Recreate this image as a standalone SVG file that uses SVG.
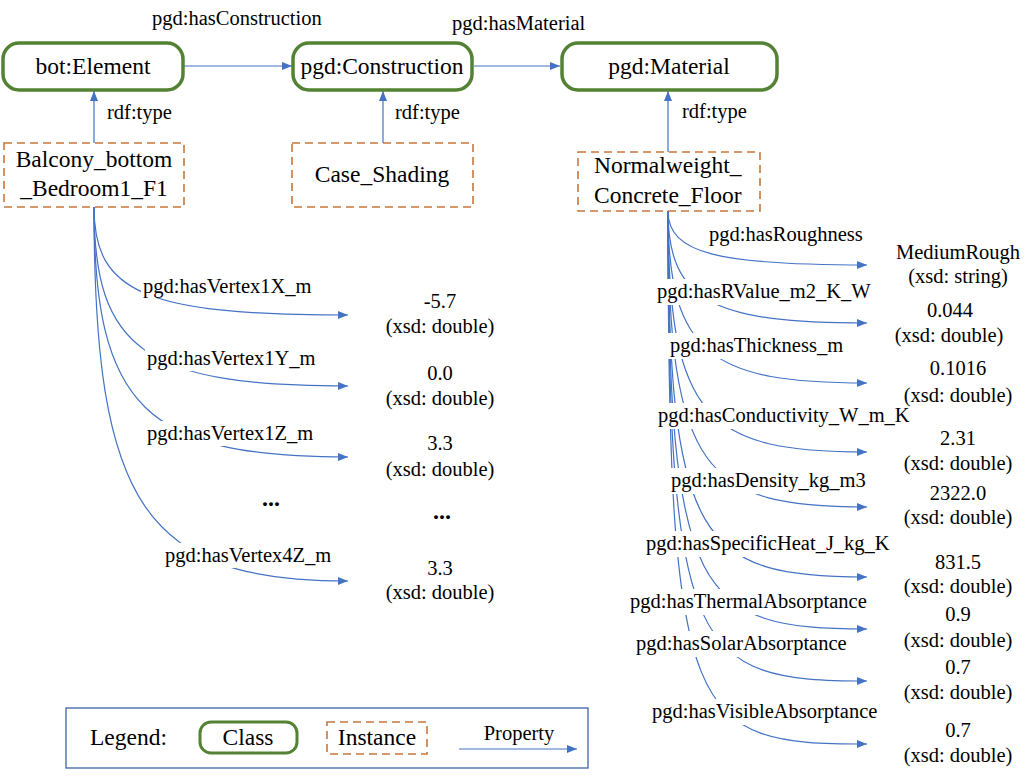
<svg xmlns="http://www.w3.org/2000/svg" width="1035" height="780" viewBox="0 0 1035 780">
  <defs>
    <marker id="arr" markerUnits="userSpaceOnUse" markerWidth="11" markerHeight="9" refX="10" refY="4" orient="auto">
      <path d="M0,0 L10,4 L0,8 z" fill="#4472C4"/>
    </marker>
    <style>
      text { font-family: 'Liberation Serif', 'Times New Roman', serif; fill: #000; }
      .node { font-size: 23.5px; }
      .lbl { font-size: 20.5px; }
      .val { font-size: 20.5px; text-anchor: middle; }
      .mid { text-anchor: middle; }
      .cls { fill: #fff; stroke: #548235; stroke-width: 3.5; }
      .inst { fill: #fff; stroke: #C8773A; stroke-width: 1.6; stroke-dasharray: 8 5; }
      .edge { fill: none; stroke: #4472C4; stroke-width: 1.2; marker-end: url(#arr); }
      .bg { fill: #fff; }
      .dots { font-size: 24px; font-weight: bold; text-anchor: middle; }
    </style>
  </defs>
  <rect width="1035" height="780" fill="#fff"/>

  <!-- connectors -->
  <g id="connectors">
    <path class="edge" d="M184,66 L292,66"/>
    <path class="edge" d="M474,66 L560,66"/>
    <path class="edge" d="M94,143 L94,91"/>
    <path class="edge" d="M383,143 L383,91"/>
    <path class="edge" d="M668,152 L668,91"/>
    <!-- Balcony_bottom_Bedroom1_F1 data properties -->
    <path class="edge" d="M94,207 C94,293 145,315 348,315"/>
    <path class="edge" d="M94,207 C94,350 145,386 348,386"/>
    <path class="edge" d="M94,207 C94,407 145,457 348,457"/>
    <path class="edge" d="M94,207 C94,506 145,581 348,581"/>
    <!-- Normalweight_Concrete_Floor data properties -->
    <path class="edge" d="M668,211 C668,254 720,265 867,265"/>
    <path class="edge" d="M668,211 C668,303 716,323 867,323"/>
    <path class="edge" d="M668,211 C668,356 713,383 867,383"/>
    <path class="edge" d="M668,211 C668,420 708,452 867,452"/>
    <path class="edge" d="M668,211 C668,473 705,507 867,507"/>
    <path class="edge" d="M668,211 C668,544 700,577 867,577"/>
    <path class="edge" d="M668,211 C668,599 697,629 867,629"/>
    <path class="edge" d="M668,211 C668,656 694,681 867,681"/>
    <path class="edge" d="M668,211 C668,728 690,744 867,744"/>
  </g>

  <!-- property labels (white backing hides the curves running underneath) -->
  <g id="labels">
    <text class="lbl" x="152" y="25">pgd:hasConstruction</text>
    <text class="lbl" x="452" y="30">pgd:hasMaterial</text>
    <text class="lbl" x="107" y="119">rdf:type</text>
    <text class="lbl" x="395" y="119">rdf:type</text>
    <text class="lbl" x="682" y="118">rdf:type</text>

    <rect class="bg" x="141" y="274" width="181" height="24"/>
    <text class="lbl" x="143" y="293">pgd:hasVertex1X_m</text>
    <rect class="bg" x="145" y="346" width="181" height="25"/>
    <text class="lbl" x="147" y="365">pgd:hasVertex1Y_m</text>
    <rect class="bg" x="145" y="421" width="181" height="25"/>
    <text class="lbl" x="147" y="440">pgd:hasVertex1Z_m</text>
    <rect class="bg" x="163" y="543" width="178" height="25"/>
    <text class="lbl" x="165" y="562">pgd:hasVertex4Z_m</text>

    <rect class="bg" x="707" y="222" width="163" height="25"/>
    <text class="lbl" x="709" y="241">pgd:hasRoughness</text>
    <rect class="bg" x="655" y="279" width="230" height="26"/>
    <text class="lbl" x="657" y="298">pgd:hasRValue_m2_K_W</text>
    <rect class="bg" x="668" y="333" width="181" height="26"/>
    <text class="lbl" x="670" y="352">pgd:hasThickness_m</text>
    <rect class="bg" x="656" y="403" width="266" height="26"/>
    <text class="lbl" x="658" y="422">pgd:hasConductivity_W_m_K</text>
    <rect class="bg" x="669" y="468" width="205" height="26"/>
    <text class="lbl" x="671" y="487">pgd:hasDensity_kg_m3</text>
    <rect class="bg" x="644" y="531" width="255" height="26"/>
    <text class="lbl" x="646" y="550">pgd:hasSpecificHeat_J_kg_K</text>
    <rect class="bg" x="628" y="589" width="249" height="26"/>
    <text class="lbl" x="630" y="608">pgd:hasThermalAbsorptance</text>
    <rect class="bg" x="634" y="631" width="223" height="26"/>
    <text class="lbl" x="636" y="650">pgd:hasSolarAbsorptance</text>
    <rect class="bg" x="650" y="699" width="239" height="26"/>
    <text class="lbl" x="652" y="718">pgd:hasVisibleAbsorptance</text>

    <text class="dots" x="271" y="506">...</text>
  </g>

  <!-- class nodes -->
  <g id="bot-element">
    <rect class="cls" x="3" y="43" width="180" height="47" rx="16"/>
    <text class="node mid" x="93" y="74">bot:Element</text>
  </g>
  <g id="pgd-construction">
    <rect class="cls" x="293" y="43" width="179" height="47" rx="16"/>
    <text class="node mid" x="382" y="74">pgd:Construction</text>
  </g>
  <g id="pgd-material">
    <rect class="cls" x="562" y="43" width="215" height="47" rx="16"/>
    <text class="node mid" x="669" y="74">pgd:Material</text>
  </g>

  <!-- instance nodes -->
  <g id="balcony-bottom-bedroom1-f1">
    <rect class="inst" x="4" y="143" width="180" height="64"/>
    <text class="node mid" x="94" y="167">Balcony_bottom</text>
    <text class="node mid" x="94" y="196">_Bedroom1_F1</text>
  </g>
  <g id="case-shading">
    <rect class="inst" x="292" y="143" width="181" height="64"/>
    <text class="node mid" x="382" y="182">Case_Shading</text>
  </g>
  <g id="normalweight-concrete-floor">
    <rect class="inst" x="578" y="152" width="182" height="59"/>
    <text class="node" x="594" y="173">Normalweight_</text>
    <text class="node" x="594" y="203">Concrete_Floor</text>
  </g>

  <!-- literal values -->
  <g id="vertex-values">
    <text class="val" x="440" y="308">-5.7</text>
    <text class="val" x="440" y="333">(xsd: double)</text>
    <text class="val" x="440" y="380">0.0</text>
    <text class="val" x="440" y="405">(xsd: double)</text>
    <text class="val" x="440" y="450">3.3</text>
    <text class="val" x="440" y="476">(xsd: double)</text>
    <text class="dots" x="442" y="519">...</text>
    <text class="val" x="440" y="575">3.3</text>
    <text class="val" x="440" y="599">(xsd: double)</text>
  </g>
  <g id="material-values">
    <text class="val" x="958" y="259">MediumRough</text>
    <text class="val" x="958" y="283">(xsd: string)</text>
    <text class="val" x="950" y="317">0.044</text>
    <text class="val" x="949" y="342">(xsd: double)</text>
    <text class="val" x="958" y="375">0.1016</text>
    <text class="val" x="958" y="402">(xsd: double)</text>
    <text class="val" x="958" y="445">2.31</text>
    <text class="val" x="958" y="470">(xsd: double)</text>
    <text class="val" x="958" y="500">2322.0</text>
    <text class="val" x="958" y="524">(xsd: double)</text>
    <text class="val" x="958" y="569">831.5</text>
    <text class="val" x="958" y="593">(xsd: double)</text>
    <text class="val" x="958" y="621">0.9</text>
    <text class="val" x="958" y="647">(xsd: double)</text>
    <text class="val" x="958" y="674">0.7</text>
    <text class="val" x="958" y="699">(xsd: double)</text>
    <text class="val" x="958" y="737">0.7</text>
    <text class="val" x="958" y="762">(xsd: double)</text>
  </g>

  <!-- legend -->
  <g id="legend">
    <rect x="66" y="708" width="522" height="60" fill="#fff" stroke="#3F62A8" stroke-width="1.3"/>
    <text class="node" x="90" y="745">Legend:</text>
    <rect class="cls" x="200" y="722" width="97" height="31" rx="11" style="stroke-width:3"/>
    <text class="node mid" x="248" y="745">Class</text>
    <rect class="inst" x="327" y="722" width="100" height="32"/>
    <text class="node mid" x="377" y="745">Instance</text>
    <path class="edge" d="M459,749 L577,749"/>
    <text class="lbl mid" x="519" y="740">Property</text>
  </g>
</svg>
